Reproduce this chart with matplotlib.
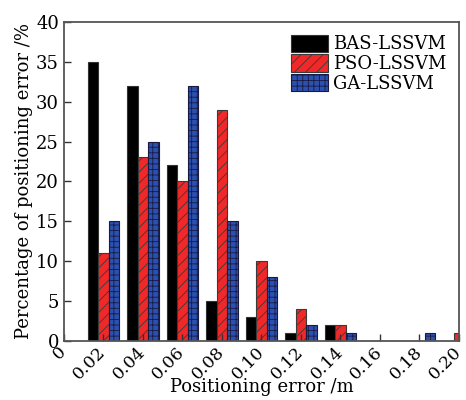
import matplotlib
matplotlib.use("Agg")
import matplotlib.pyplot as plt
import numpy as np

plt.rcParams['font.family'] = ['DejaVu Serif']
plt.rcParams['hatch.linewidth'] = 0.6

x_centers = [0.02, 0.04, 0.06, 0.08, 0.10, 0.12, 0.14, 0.16, 0.18, 0.20]
bas = [35, 32, 22, 5, 3, 1, 2, 0, 0, 0]
pso = [11, 23, 20, 29, 10, 4, 2, 0, 0, 1]
ga = [15, 25, 32, 15, 8, 2, 1, 0, 1, 0]
xticks = [0, 0.02, 0.04, 0.06, 0.08, 0.10, 0.12, 0.14, 0.16, 0.18, 0.20]
xtick_labels = ['0', '0.02', '0.04', '0.06', '0.08', '0.10', '0.12', '0.14', '0.16', '0.18', '0.20']
yticks = [0, 5, 10, 15, 20, 25, 30, 35, 40]

fig = plt.figure(figsize=(4.66, 4.0), dpi=100)
ax = fig.add_axes([0.137, 0.148, 0.848, 0.797])

w = 0.0053
x = np.array(x_centers)
ax.bar(x - w, bas, w, color='black', edgecolor='#333333', linewidth=0.8, label='BAS-LSSVM')
ax.bar(x, pso, w, color='#f02828', edgecolor='#3a3a3a', linewidth=0.8, hatch='///', label='PSO-LSSVM')
ax.bar(x + w, ga, w, color='#2a50b0', edgecolor='#1a1a40', linewidth=0.8, hatch='+++', label='GA-LSSVM')

ax.set_xlim(0, 0.2)
ax.set_ylim(0, 40)
ax.set_xticks(xticks)
ax.set_xticklabels(xtick_labels, rotation=45, ha='right', va='center', rotation_mode='anchor', fontsize=12.5)
ax.set_yticks(yticks)
ax.set_yticklabels([str(v) for v in yticks], fontsize=13)
ax.tick_params(direction='in', length=5, width=1, colors='#333333', labelcolor='black')
ax.tick_params(axis='x', pad=6)
for s in ax.spines.values():
    s.set_color('#555555')
    s.set_linewidth(1.3)

ax.set_xlabel('Positioning error /m', fontsize=13, labelpad=-3)
ax.set_ylabel('Percentage of positioning error /%', fontsize=13, labelpad=2)

ax.legend(loc='upper right', frameon=False, fontsize=13, handlelength=2.0, handleheight=1.1,
          labelspacing=0.05, handletextpad=0.3, borderaxespad=0.3)

fig.savefig('out.png', dpi=100)
